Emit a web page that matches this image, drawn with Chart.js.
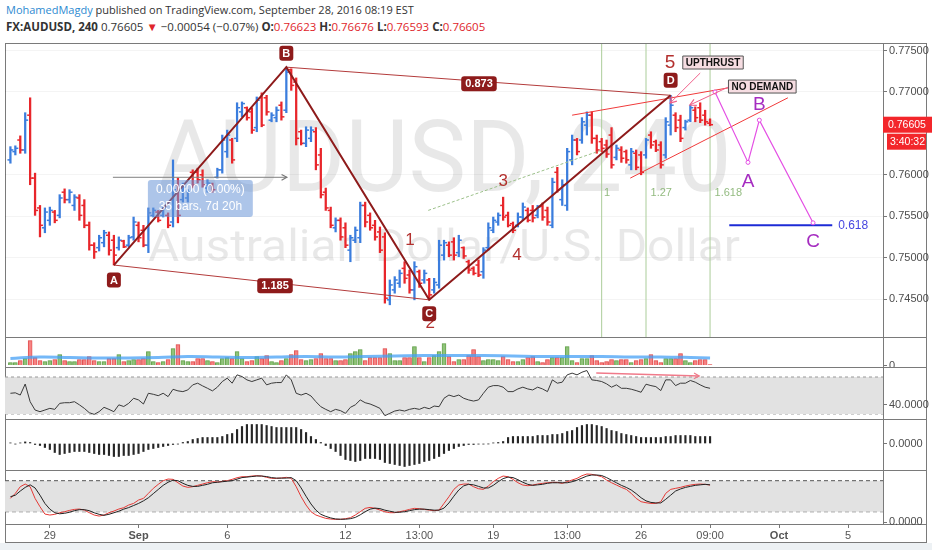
<!DOCTYPE html>
<html><head><meta charset="utf-8">
<script src="https://cdn.jsdelivr.net/npm/chart.js@4.4.1/dist/chart.umd.min.js"></script>
<style>
html,body{margin:0;padding:0;background:#fff;width:932px;height:550px;overflow:hidden;font-family:'Open Sans',sans-serif;}
.hd{position:absolute;left:6px;white-space:nowrap;color:#333;line-height:17px;}
.hd .r{color:#e0262b;}
.ln{position:absolute;background:#7a7a7a;z-index:0;}
canvas{position:absolute;left:5px;z-index:1;}
#foot{position:absolute;left:0;top:543px;width:932px;height:7px;background:#edf1f4;}
</style></head><body>
<div class="hd" style="top:1px;font-size:11px"><span style="color:#2d8ad1">MohamedMagdy</span> published on TradingView.com, September 28, 2016 08:19 EST</div>
<div class="hd" style="top:18px;font-size:11.5px"><b>FX:AUDUSD, 240</b> 0.76605 <span class="r">▼</span> −0.00054 (−0.07%) <b>O:</b><span class="r">0.76623</span> <b>H:</b><span class="r">0.76676</span> <b>L:</b><span class="r">0.76593</span> <b>C:</b><span class="r">0.76605</span></div>
<div id="foot"></div>
<div class="ln" style="left:5px;top:43px;width:922px;height:1px"></div>
<div class="ln" style="left:5px;top:337px;width:922px;height:1px"></div>
<div class="ln" style="left:5px;top:367px;width:922px;height:1px"></div>
<div class="ln" style="left:5px;top:419px;width:922px;height:1px"></div>
<div class="ln" style="left:5px;top:470px;width:922px;height:1px"></div>
<div class="ln" style="left:5px;top:524px;width:922px;height:1px"></div>
<div class="ln" style="left:5px;top:542px;width:922px;height:1px"></div>
<div class="ln" style="left:5px;top:43px;width:1px;height:500px"></div>
<div class="ln" style="left:883px;top:43px;width:1px;height:481px"></div>
<div class="ln" style="left:926px;top:43px;width:1px;height:500px"></div>
<canvas id="cMain" width="927" height="293" style="top:44px"></canvas>
<canvas id="cVol" width="927" height="29" style="top:338px"></canvas>
<canvas id="cRsi" width="927" height="51" style="top:368px"></canvas>
<canvas id="cMacd" width="927" height="50" style="top:420px"></canvas>
<canvas id="cSto" width="927" height="72" style="top:471px"></canvas>
<script>
// ---------------- DATA ----------------
const highs = [
.7634,.7635,.7647,.7675,.7693,.7602,.7563,.7560,.7561,.7557,
.7576,.7583,.7582,.7576,.7576,.7570,.7543,.7518,.7527,.7533,
.7531,.7527,.7525,.7521,.7527,.7549,.7543,.7539,.7560,.7560,
.7557,.7561,.7554,.7618,.7596,.7590,.7582,.7606,.7608,.7606,
.7594,.7590,.7608,.7648,.7654,.7644,.7687,.7688,.7682,.7681,
.7694,.7699,.7696,.7675,.7682,.7688,.7730,.7728,.7717,.7654,
.7658,.7658,.7657,.7632,.7584,.7561,.7548,.7548,.7542,.7527,
.7537,.7567,.7567,.7554,.7545,.7537,.7530,.7473,.7477,.7485,
.7495,.7485,.7495,.7485,.7485,.7475,.7475,.7521,.7521,.7519,
.7524,.7527,.7513,.7497,.7489,.7497,.7512,.7542,.7549,.7554,
.7573,.7555,.7543,.7554,.7566,.7560,.7563,.7563,.7566,.7561,
.7596,.7609,.7594,.7632,.7648,.7644,.7669,.7676,.7676,.7648,
.7644,.7642,.7657,.7636,.7634,.7630,.7632,.7630,.7628,.7644,
.7652,.7642,.7640,.7669,.7696,.7675,.7672,.7666,.7684,.7682,
.7687,.7678,.76676];
const lows = [
.7614,.7624,.7626,.7626,.7588,.7551,.7525,.7530,.7539,.7542,
.7548,.7566,.7566,.7557,.7545,.7536,.7509,.7499,.7508,.7513,
.7503,.7491,.7509,.7512,.7513,.7521,.7519,.7513,.7506,.7549,
.7543,.7549,.7536,.7537,.7542,.7567,.7567,.7584,.7590,.7585,
.7579,.7579,.7596,.7602,.7621,.7614,.7640,.7670,.7666,.7650,
.7652,.7658,.7672,.7664,.7664,.7666,.7675,.7702,.7636,.7636,
.7634,.7640,.7606,.7572,.7557,.7536,.7531,.7521,.7512,.7495,
.7518,.7518,.7537,.7533,.7521,.7506,.7445,.7443,.7457,.7464,
.7469,.7457,.7449,.7464,.7469,.7449,.7457,.7463,.7497,.7501,
.7497,.7501,.7499,.7481,.7479,.7477,.7475,.7509,.7530,.7539,
.7545,.7537,.7530,.7537,.7545,.7543,.7543,.7548,.7545,.7539,
.7536,.7579,.7563,.7557,.7612,.7624,.7638,.7648,.7638,.7626,
.7628,.7621,.7608,.7618,.7615,.7614,.7606,.7606,.7600,.7620,
.7632,.7628,.7608,.7620,.7648,.7652,.7640,.7654,.7664,.7664,
.7663,.7660,.76593];
const opens = [
.7618,.7628,.7642,.7630,.7672,.7596,.7560,.7536,.7545,.7555,
.7551,.7579,.7570,.7563,.7572,.7563,.7539,.7515,.7512,.7518,
.7527,.7521,.7512,.7520,.7515,.7525,.7539,.7533,.7515,.7551,
.7555,.7551,.7551,.7543,.7588,.7570,.7572,.7603,.7603,.7600,
.7584,.7588,.7597,.7606,.7628,.7642,.7644,.7676,.7681,.7676,
.7657,.7693,.7693,.7666,.7669,.7684,.7678,.7727,.7712,.7652,
.7638,.7644,.7652,.7624,.7579,.7557,.7536,.7545,.7536,.7509,
.7521,.7524,.7563,.7551,.7539,.7531,.7525,.7449,.7461,.7469,
.7487,.7479,.7461,.7483,.7473,.7473,.7461,.7467,.7503,.7515,
.7519,.7506,.7512,.7495,.7487,.7491,.7483,.7512,.7533,.7543,
.7563,.7551,.7541,.7539,.7549,.7557,.7557,.7551,.7562,.7557,
.7539,.7603,.7570,.7563,.7618,.7642,.7642,.7660,.7672,.7644,
.7640,.7636,.7648,.7621,.7630,.7628,.7612,.7626,.7624,.7624,
.7648,.7640,.7636,.7624,.7660,.7672,.7666,.7657,.7666,.7678,
.7681,.7672,.76623];
const closes = [
.7630,.7632,.7630,.7666,.7596,.7557,.7539,.7555,.7557,.7545,
.7572,.7570,.7579,.7573,.7551,.7539,.7515,.7507,.7524,.7530,
.7509,.7503,.7521,.7513,.7524,.7543,.7524,.7515,.7554,.7557,
.7545,.7560,.7539,.7582,.7551,.7585,.7579,.7588,.7594,.7588,
.7590,.7582,.7606,.7642,.7648,.7618,.7681,.7686,.7669,.7654,
.7690,.7660,.7676,.7672,.7678,.7670,.7724,.7708,.7644,.7638,
.7654,.7654,.7612,.7576,.7560,.7539,.7545,.7525,.7515,.7524,
.7533,.7563,.7543,.7536,.7525,.7509,.7451,.7467,.7473,.7481,
.7475,.7461,.7489,.7469,.7481,.7455,.7470,.7515,.7518,.7503,
.7503,.7521,.7502,.7485,.7481,.7479,.7509,.7536,.7545,.7551,
.7549,.7539,.7533,.7549,.7561,.7545,.7548,.7561,.7549,.7543,
.7591,.7582,.7588,.7628,.7642,.7628,.7664,.7672,.7644,.7630,
.7632,.7625,.7612,.7632,.7620,.7618,.7628,.7609,.7603,.7642,
.7636,.7630,.7612,.7664,.7684,.7657,.7644,.7664,.7681,.7669,
.7666,.7664,.76605];
const volume = [
3,3,5,7,25,8,5,4,5,6, 11,5,4,4,6,6,9,5,4,4, 7,7,11,4,5,6,6,7,14,4,
3,4,6,17,21,5,4,4,7,7, 5,4,3,7,8,7,14,7,4,5, 9,7,10,4,3,5,7,11,15,6,
5,6,7,12,7,7,5,5,6,12, 14,16,5,8,8,8,17,12,5,5, 8,8,19,8,4,8,10,14,22,9,
4,6,6,10,16,9,5,6,6,5, 9,6,4,4,6,8,9,4,3,6, 8,8,8,19,5,3,7,7,10,5,
3,4,6,5,6,6,3,5,6,7, 11,5,3,7,7,7,12,5,3,5, 6,6,1];
const volMAIdx = [0,6,12,18,24,30,36,42,48,54,60,66,72,78,84,90,96,102,108,114,120,126,132,138,142];
const volMAVal = [7,8.5,8,7.5,7.5,8,9,8.5,8,8.5,9,8.5,9,9.5,10,10,10,9.5,9,9,9,8.5,8.5,8,7.5];
const rsi = [
52.4,52.9,50.5,62.4,43.3,34.3,32.5,34.3,36.1,35,
41.5,42.2,42.2,43.3,39.9,36.1,31.4,29.6,32.5,37.2,
35,32.5,39.9,38.1,41.5,47,45.2,40.8,52.4,51.3,
49.8,52.4,48.8,56.7,55,54.2,56,61.5,63.3,60.4,
57.8,55,59,65.1,68.7,63.3,72.3,70.5,66.9,65.1,
66.9,68.7,61.5,63.3,64,64,72.3,66.9,52.4,50.5,
52.4,49.5,43.3,37.9,35,32.5,35,33.6,30.7,37.2,
39.9,45.2,42.2,40.8,38.6,36.1,28.2,30.7,33.2,34.3,
33.2,35,36.1,35,37.2,35.7,38.6,37.9,47,50.5,
48.8,50.5,47,45.2,44,45.2,52.4,59,60.7,60.7,
59,54.2,54.2,57.1,59,57.1,56,59,57.1,54.2,
66.9,63.3,64.4,72.3,74.2,72.3,75.2,77,66.9,66.2,
65.1,62.6,59,61.5,57.8,57.8,56.8,55.3,53.5,62.2,
60.7,59.6,55.3,66.9,66.9,60.7,63.3,63.3,66.2,64.4,
61.5,59,57.8];
const macdHist = [
0.00003,-0.00003,0.00003,0.00008,0.00005,-0.00005,-0.0001,-0.0002,-0.0003,-0.00045,
-0.00055,-0.0005,-0.00045,-0.0004,-0.0004,-0.0004,-0.00045,-0.0005,-0.00055,-0.00055,
-0.0006,-0.00065,-0.00065,-0.0006,-0.0006,-0.00055,-0.0005,-0.0004,-0.0003,-0.00025,
-0.0002,-0.00015,-0.0001,-0.00005,-0.00003,0.00005,0.0001,0.0002,0.00025,0.0003,
0.0003,0.0003,0.0003,0.00035,0.00045,0.0005,0.0007,0.00085,0.00095,0.00095,
0.00095,0.00095,0.0009,0.00085,0.0008,0.0008,0.0008,0.0008,0.0008,0.0007,
0.00055,0.00035,0.0002,0.00005,-0.0001,-0.00025,-0.0004,-0.0006,-0.0008,-0.00085,
-0.0009,-0.00085,-0.00075,-0.00075,-0.00075,-0.0008,-0.00095,-0.001,-0.00105,-0.0011,
-0.00115,-0.0011,-0.00105,-0.001,-0.0009,-0.00085,-0.00075,-0.00065,-0.0005,-0.00035,
-0.00025,-0.00015,-0.0001,-0.00005,-0.00005,-0.00003,-0.00003,-0.00002,0.00003,0.00005,
0.0001,0.0003,0.00035,0.00035,0.00035,0.00035,0.00035,0.0004,0.0004,0.0004,
0.00045,0.00045,0.0005,0.0006,0.00065,0.0008,0.0009,0.00095,0.00095,0.0009,
0.00085,0.00075,0.00065,0.0006,0.0005,0.00045,0.0004,0.00035,0.0003,0.0003,
0.0003,0.0003,0.0003,0.00035,0.00035,0.0004,0.0004,0.0004,0.0004,0.00035,
0.00035,0.00035,0.00035];
const stochK = [
45.8,55.5,68.4,73.5,68.4,45.8,29.7,15.5,13.6,14.9,
18.1,20,22.6,24.5,25.2,23.2,18.1,13.6,11.6,13.6,
18.1,21.3,25.2,27.8,32.9,36.1,42.6,45.8,55.5,65.2,
72.9,80,83.2,82.6,76.1,69.7,67.1,68.4,71,73.5,
76.1,78.1,77.4,78.7,80,82.6,85.8,87.7,87.7,89,
89.7,89,86.5,84.5,84.5,85.2,86.5,84.5,68.4,49,
32.9,20,13.6,10.3,7.1,5.8,5.2,5.2,6.5,8.4,
13.6,20,26.5,28.4,26.5,23.2,20,18.1,18.1,20,
22,24.5,26.5,25.8,24.5,23.2,22,23.2,36.1,49,
63.2,71.6,73.5,73.5,68.4,64.5,63.2,69.7,78.1,84.5,
89,87.7,82.6,76.1,71.6,70.3,71.6,73.5,74.8,76.1,
76.8,76.8,74.8,78.1,81.3,84.5,89.7,92.9,92.3,90.3,
87.7,81.3,76.1,71.6,67.1,63.2,55.5,45.8,39.4,37.4,
36.1,36.1,39.4,55.5,63.2,65.2,67.1,69.7,71.6,72.9,
73.5,72.9,71.6];
const stochD = [
49,52,60,67,72,66,52,36,25,18,
16,17,19,22,24,24,22,18,15,13,
15,18,21,25,28,32,36,41,47,55,
63,71,77,81,80,75,71,69,69,71,
73,76,77,78,79,80,83,86,87,88,
89,89,88,86,85,85,85,86,80,66,
50,35,23,15,11,8,6,5.5,5.5,6.5,
9,14,20,25,27,26,23,21,19,19,
20,22,24,25,25,24,23,23,27,37,
50,62,70,73,72,69,66,66,71,78,
84,87,86,82,77,73,71,72,73,75,
76,76,76,76,78,81,85,89,91,91,
90,86,81,76,71,67,62,55,47,41,
38,37,37,44,52,60,64,67,69,71,
72,73,72];
const xTickIdx = [8,26,44,68,83,98,113,128,142,156,170];
const xTickLabels = ['29','Sep','6','12','13:00','19','13:00','26','09:00','Oct','5'];
const priceTicks = [0.745,0.75,0.755,0.76,0.77,0.775];
const volTicks = [0], rsiTicks = [40], macdTicks = [0], stochTicks = [0];
const rsiLevels = [70,30], stochLevels = [80,20];
// drawings (bar index, price)
const xabcdX = [21,56,85,134], xabcdY = [0.7491,0.7730,0.7449,0.7696], xabcdNames = ['A','B','C','D'];
const ratioTexts = ['1.185','0.873'], ratioX = [53.7,95.1], ratioY = [0.7466,0.7710];
const waveTexts = ['1','2','3','4','5'], waveX = [81.1,85.2,100,102.8,133.9], waveY = [0.7521,0.7421,0.7592,0.7503,0.7735];
const fibTimeX = [120,129,142], fibTimeTexts = ['1','1.27','1.618'], fibTextX = [121.1,132.1,145.7], fibTextY = 0.7578;
const upperWedge = [[114,0.7672],[145.7,0.7705]], lowerWedge = [[125.8,0.7596],[157.8,0.7693]];
const trendDash = [[84.8,0.7557],[120.1,0.7630]];
const measureLine = [[20.8,0.7597],[56.1,0.7597]];
const measureBox = [27.9,49.2,0.75937,0.7549], measureTexts = ['0.00000 (0.00%)','35 bars, 7d 20h'];
const projX = [143,149.7,152,162.9], projY = [0.7700,0.7615,0.7666,0.7542];
const projTexts = ['A','B','C'], projTextX = [149.7,152,162.9], projTextY = [0.7591,0.7684,0.7519];
const fibLevel = [[145.9,0.7539],[166.8,0.7539]], fibLevelText = '0.618', fibLevelTextX = 168.0;
const calloutTexts = ['UPTHRUST','NO DEMAND'], calloutX = [142.6,152.6], calloutY = [0.77356,0.77066];
const calloutLines = [[[140.0,0.77229],[133.9,0.76867]],[[145.7,0.7706],[137.9,0.76843]]];
const rsiArrow = [[118.9,74.3],[139.8,71.1]];
const lastPrice = 0.76605, countdown = '3:40:32';
const watermark1 = 'AUDUSD, 240', watermark2 = 'Australian Dollar/U.S. Dollar';

// ---------------- SETUP ----------------
const XMIN = -1.1, XMAX = 177.1, AXW = 49;
const FONT = "'Liberation Sans', Arial, sans-serif";
const UP = '#3b7ddd', DN = '#e8262b';
const barCol = closes.map((c,i) => c >= opens[i] ? UP : DN);
const pts = (xs, ys) => xs.map((x,i) => ({x, y: ys[i]}));
const seg = a => a.map(p => ({x:p[0], y:p[1]}));
const idx = highs.map((_,i) => i);

function xHidden(){ return {type:'linear', min:XMIN, max:XMAX, display:false, offset:false, grid:{offset:false}}; }
function yAx(min, max, ticks, fmt, grid){
  return {position:'right', min, max,
    afterFit(s){ s.width = AXW; s.paddingTop = 0; s.paddingBottom = 0; },
    afterBuildTicks(s){ s.ticks = ticks.map(v => ({value:v})); },
    ticks:{callback: fmt, color:'#4d4d4d', font:{family:FONT, size:11}, padding:2, autoSkip:false},
    grid:{color: grid ? 'rgba(0,0,0,0.045)' : 'rgba(0,0,0,0)', drawOnChartArea: !!grid, tickColor:'#777', tickLength:4},
    border:{display:false}};
}
const base = {responsive:false, animation:false, events:[], layout:{padding:0, autoPadding:false},
  plugins:{legend:{display:false}, tooltip:{enabled:false}}};
function opts(scales){ return Object.assign({}, base, {scales}); }
function lineDs(data, color, width, extra){
  return Object.assign({type:'line', data, borderColor:color, borderWidth:width, pointRadius:0, tension:0, fill:false}, extra||{});
}

function arrowHead(ctx, x1, y1, x2, y2, size, color){
  const a = Math.atan2(y2-y1, x2-x1);
  ctx.save(); ctx.strokeStyle = color; ctx.lineWidth = 1.2; ctx.beginPath();
  ctx.moveTo(x2 - size*Math.cos(a-0.5), y2 - size*Math.sin(a-0.5));
  ctx.lineTo(x2, y2);
  ctx.lineTo(x2 - size*Math.cos(a+0.5), y2 - size*Math.sin(a+0.5));
  ctx.stroke(); ctx.restore();
}
function boxText(ctx, cx, cy, text, font, padX, h, fill, stroke, color, r){
  ctx.save(); ctx.font = font;
  const w = ctx.measureText(text).width + padX*2;
  ctx.beginPath(); ctx.roundRect(cx - w/2, cy - h/2, w, h, r);
  ctx.fillStyle = fill; ctx.fill();
  if (stroke){ ctx.strokeStyle = stroke; ctx.lineWidth = 1; ctx.stroke(); }
  ctx.fillStyle = color; ctx.textAlign = 'center'; ctx.textBaseline = 'middle';
  ctx.fillText(text, cx, cy + 0.5); ctx.restore();
}
function txt(ctx, x, y, text, font, color, align){
  ctx.save(); ctx.font = font; ctx.fillStyle = color; ctx.textAlign = align || 'center';
  ctx.textBaseline = 'middle'; ctx.fillText(text, x, y); ctx.restore();
}

// ---------------- MAIN ----------------
const mainPlugin = {
  id:'mainAnn',
  beforeDatasetsDraw(chart){
    const {ctx, chartArea:a} = chart; const cx = (a.left + a.right)/2;
    ctx.save(); ctx.fillStyle = 'rgba(0,0,0,0.09)'; ctx.textAlign = 'center'; ctx.textBaseline = 'alphabetic';
    ctx.font = "100px Roboto, 'Liberation Sans', sans-serif";
    let w = ctx.measureText(watermark1).width;
    ctx.save(); ctx.translate(cx, 147); ctx.scale(575/w, 1); ctx.fillText(watermark1, 0, 0); ctx.restore();
    ctx.font = "45px Roboto, 'Liberation Sans', sans-serif";
    w = ctx.measureText(watermark2).width;
    ctx.save(); ctx.translate(cx, 217); ctx.scale(592/w, 1); ctx.fillText(watermark2, 0, 0); ctx.restore();
    ctx.restore();
  },
  afterDatasetsDraw(chart){
    const {ctx} = chart, X = chart.scales.x, Y = chart.scales.y;
    const px = v => X.getPixelForValue(v), py = v => Y.getPixelForValue(v);
    ctx.save();
    const bx1 = px(measureBox[0]), bx2 = px(measureBox[1]), by1 = py(measureBox[2]), by2 = py(measureBox[3]);
    ctx.fillStyle = 'rgba(105,150,215,0.55)';
    ctx.beginPath(); ctx.roundRect(bx1, by1, bx2-bx1, by2-by1, 3); ctx.fill(); ctx.restore();
    const mcx = (bx1+bx2)/2, mh = (by2-by1);
    txt(ctx, mcx, by1 + mh*0.27, measureTexts[0], "12px " + FONT, '#fff');
    txt(ctx, mcx, by1 + mh*0.73, measureTexts[1], "12px " + FONT, '#fff');
    arrowHead(ctx, px(measureLine[0][0]), py(measureLine[0][1]), px(measureLine[1][0]), py(measureLine[1][1]), 6, '#777');
    calloutLines.forEach(l => arrowHead(ctx, px(l[0][0]), py(l[0][1]), px(l[1][0]), py(l[1][1]), 7, '#f0608a'));
    fibTimeTexts.forEach((t,i) => txt(ctx, px(fibTextX[i]), py(fibTextY), t, "11px " + FONT, '#93bb80'));
    waveTexts.forEach((t,i) => txt(ctx, px(waveX[i]), py(waveY[i]), t, (t === '5' ? "19px " : "17px ") + FONT, '#b3302e'));
    const off = [15,-14,14,-15];
    xabcdNames.forEach((t,i) => boxText(ctx, px(xabcdX[i]), py(xabcdY[i]) + off[i], t, "bold 11px " + FONT, 3, 15, '#8e1b1b', null, '#fff', 3));
    ratioTexts.forEach((t,i) => boxText(ctx, px(ratioX[i]), py(ratioY[i]), t, "bold 11px " + FONT, 4, 15, '#8e1b1b', null, '#fff', 3));
    calloutTexts.forEach((t,i) => boxText(ctx, px(calloutX[i]), py(calloutY[i]), t, "bold 10px " + FONT, 3, 13, '#f6dde2', '#555', '#111', 0));
    projTexts.forEach((t,i) => txt(ctx, px(projTextX[i]), py(projTextY[i]), t, "19px " + FONT, '#a52cc0'));
    txt(ctx, px(fibLevelTextX), py(fibLevel[0][1]), fibLevelText, "12px " + FONT, '#4646e0', 'left');
  },
  afterDraw(chart){
    const {ctx, chartArea:a} = chart, y = chart.scales.y.getPixelForValue(lastPrice);
    ctx.save();
    ctx.fillStyle = '#f3262b'; ctx.fillRect(a.right, y - 8, chart.width - a.right, 16);
    ctx.fillRect(a.right + 4, y + 9, 39, 16);
    ctx.fillStyle = '#fff'; ctx.font = "10.5px " + FONT; ctx.textBaseline = 'middle'; ctx.textAlign = 'left';
    ctx.fillText(lastPrice.toFixed(5), a.right + 5, y);
    ctx.fillText(countdown, a.right + 7, y + 17);
    ctx.restore();
  }
};

new Chart(document.getElementById('cMain'), {
  type:'bar',
  data:{datasets:[
    lineDs(pts(xabcdX, xabcdY), '#8e1b1b', 2, {order:1}),
    lineDs(seg(calloutLines[0]), '#f0608a', 1, {order:1}),
    lineDs(seg(calloutLines[1]), '#f0608a', 1, {order:1}),
    lineDs(pts(projX, projY), '#e44fe4', 1.2, {order:1, pointRadius:2, pointBackgroundColor:'#fff', pointBorderColor:'#e44fe4', pointBorderWidth:1}),
    lineDs(seg(fibLevel), '#1c2bd6', 2, {order:1}),
    lineDs(seg(measureLine), '#808080', 1, {order:2}),
    lineDs([{x:xabcdX[0], y:xabcdY[0]},{x:xabcdX[2], y:xabcdY[2]}], '#b33b3b', 1, {order:2}),
    lineDs([{x:xabcdX[1], y:xabcdY[1]},{x:xabcdX[3], y:xabcdY[3]}], '#b33b3b', 1, {order:2}),
    lineDs(seg(upperWedge), '#f03a3a', 1, {order:2}),
    lineDs(seg(lowerWedge), '#f03a3a', 1, {order:2}),
    lineDs(seg(trendDash), '#9cc08a', 1, {order:2, borderDash:[3,2]}),
    {type:'scatter', data: idx.map(i => ({x:i - 0.32, y:opens[i]})), pointStyle:'line', pointRadius:1.4,
      pointBorderColor: barCol, pointBorderWidth:1.5, order:5},
    {type:'scatter', data: idx.map(i => ({x:i + 0.32, y:closes[i]})), pointStyle:'line', pointRadius:1.4,
      pointBorderColor: barCol, pointBorderWidth:1.5, order:5},
    {type:'bar', data: idx.map(i => ({x:i, y:[lows[i], highs[i]]})), backgroundColor: barCol, barThickness:1.6, order:6},
    ...fibTimeX.map(x => lineDs([{x, y:0.7404},{x, y:0.7758}], '#abcd9a', 1, {order:8}))
  ]},
  options: opts({x: xHidden(), y: yAx(0.740411, 0.775797, priceTicks, v => v.toFixed(5), true)}),
  plugins:[mainPlugin]
});

// ---------------- VOLUME ----------------
new Chart(document.getElementById('cVol'), {
  type:'bar',
  data:{datasets:[
    lineDs(pts(volMAIdx, volMAVal), 'rgba(70,160,245,0.75)', 3, {tension:0.4, order:1}),
    {type:'bar', data: idx.map(i => ({x:i, y:volume[i]})), barThickness:4,
      backgroundColor: barCol.map(c => c === UP ? 'rgba(125,185,100,0.85)' : 'rgba(245,110,110,0.85)'),
      borderColor: barCol.map(c => c === UP ? '#5f9a48' : '#d84848'), borderWidth:0.6, order:2}
  ]},
  options: opts({x: xHidden(), y: yAx(-1.5, 27.5, volTicks, v => String(v), false)})
});

// ---------------- RSI ----------------
const rsiPlugin = {id:'rsiArrow', afterDatasetsDraw(chart){
  const X = chart.scales.x, Y = chart.scales.y;
  arrowHead(chart.ctx, X.getPixelForValue(rsiArrow[0][0]), Y.getPixelForValue(rsiArrow[0][1]),
    X.getPixelForValue(rsiArrow[1][0]), Y.getPixelForValue(rsiArrow[1][1]), 6, '#f07a8a');
}};
new Chart(document.getElementById('cRsi'), {
  type:'line',
  data:{datasets:[
    lineDs(pts(idx, rsi), '#3a3a3a', 1, {order:1}),
    lineDs(seg(rsiArrow), '#f07a8a', 1.5, {order:1}),
    lineDs([{x:XMIN, y:rsiLevels[0]},{x:XMAX, y:rsiLevels[0]}], '#9a9a9a', 1, {borderDash:[3,3], fill:'+1', backgroundColor:'#e2e2e2', order:5}),
    lineDs([{x:XMIN, y:rsiLevels[1]},{x:XMAX, y:rsiLevels[1]}], '#9a9a9a', 1, {borderDash:[3,3], order:5})
  ]},
  options: opts({x: xHidden(), y: yAx(24.59, 79.73, rsiTicks, v => v.toFixed(4), false)}),
  plugins:[rsiPlugin]
});

// ---------------- MACD ----------------
new Chart(document.getElementById('cMacd'), {
  type:'bar',
  data:{datasets:[
    {type:'bar', data: idx.map(i => ({x:i, y:macdHist[i]})), backgroundColor:'#262626', barThickness:1.5}
  ]},
  options: opts({x: xHidden(), y: yAx(-0.001325, 0.001175, macdTicks, v => v.toFixed(4), false)})
});

// ---------------- STOCH ----------------
new Chart(document.getElementById('cSto'), {
  type:'line',
  data:{datasets:[
    lineDs(pts(idx, stochD), '#222', 1, {order:1}),
    lineDs(pts(idx, stochK), '#e53935', 1, {order:2}),
    lineDs([{x:XMIN, y:stochLevels[0]},{x:XMAX, y:stochLevels[0]}], '#555', 1, {borderDash:[4,3], fill:'+1', backgroundColor:'#e2e2e2', order:5}),
    lineDs([{x:XMIN, y:stochLevels[1]},{x:XMAX, y:stochLevels[1]}], '#555', 1, {borderDash:[4,3], order:5})
  ]},
  options: opts({
    x:{type:'linear', min:XMIN, max:XMAX, position:'bottom', offset:false,
      afterFit(s){ s.height = 19; s.paddingLeft = 0; s.paddingRight = 0; },
      afterBuildTicks(s){ s.ticks = xTickIdx.map(v => ({value:v})); },
      ticks:{autoSkip:false, maxRotation:0, padding:1, color:'#555',
        callback:(v,i) => xTickLabels[i],
        font: c => ({family:FONT, size:11, weight: (xTickLabels[c.index] === 'Sep' || xTickLabels[c.index] === 'Oct') ? 'bold' : 'normal'})},
      grid:{drawOnChartArea:false, tickLength:4, tickColor:'#777', offset:false}, border:{display:false}},
    y: yAx(-3.75, 98.76, stochTicks, v => v.toFixed(4), false)
  })
});
</script>
</body></html>
